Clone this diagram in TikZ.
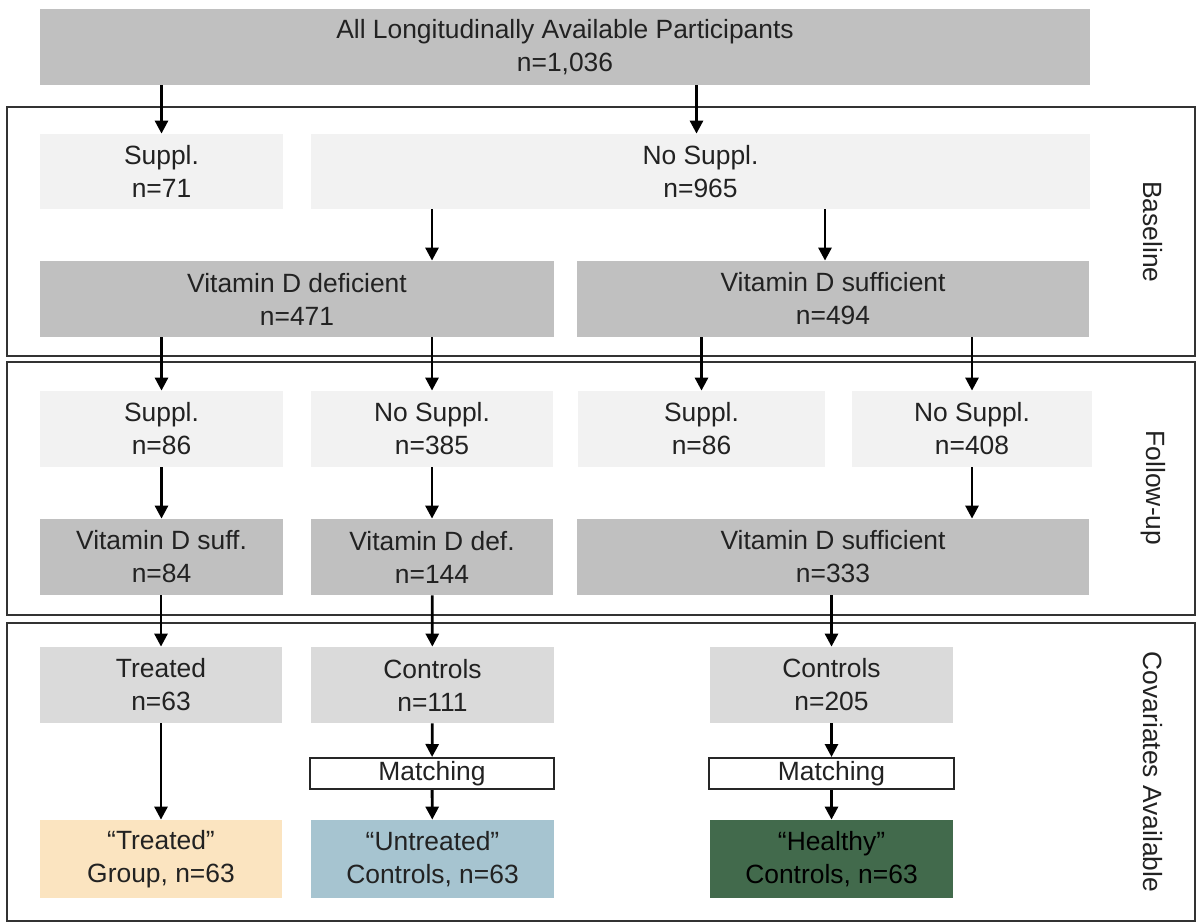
\documentclass[tikz,border=0pt]{standalone}
\usepackage{fontspec}
\setmainfont{Liberation Sans}
\usetikzlibrary{positioning, arrows.meta}

\definecolor{boxgray}{RGB}{192,192,192}
\definecolor{boxlight}{RGB}{242,242,242}
\definecolor{boxmid}{RGB}{218,218,218}
\definecolor{treatcol}{RGB}{251,228,192}
\definecolor{untreatcol}{RGB}{166,196,208}
\definecolor{healthcol}{RGB}{66,106,76}
\definecolor{txt}{RGB}{34,34,34}

\begin{document}
\begin{tikzpicture}[x=0.5pt,y=-0.5pt,
    box/.style={rectangle, align=center, inner sep=0pt, text=txt,
        font=\fontsize{13.2}{16.5}\selectfont, minimum height=38pt},
    dark/.style={box, fill=boxgray},
    light/.style={box, fill=boxlight},
    mid/.style={box, fill=boxmid},
    matchbox/.style={box, draw=black!85, line width=1pt, fill=white, minimum height=15.5pt},
    frame/.style={draw=black!80, line width=1.1pt},
    arr/.style={line width=1.4pt, -{Triangle[length=6.5pt,width=6.5pt]}},
    side/.style={rotate=-90, text=txt, font=\fontsize{13.2}{15}\selectfont}]
\useasboundingbox (0,0) rectangle (1198,922);

% stage frames
\draw[frame] (7,107) rectangle (1195,356);
\draw[frame] (7,362) rectangle (1195,615);
\draw[frame] (7,623) rectangle (1195,921);
\node[side] (lbase) at (1153,232) {Baseline};
\node[side] (lfollow) at (1153,488) {Follow-up};
\node[side] (lcov) at (1153,772) {Covariates Available};

% all participants
\node[dark, minimum width=525pt] (all) at (565,47) {All Longitudinally Available Participants\\n=1,036};

% baseline
\node[light, minimum width=121.5pt, minimum height=37.5pt] (s71) at (161.5,171.5) {Suppl.\\n=71};
\node[light, minimum width=389.5pt, minimum height=37.5pt] (n965) at (700.5,171.5) {No Suppl.\\n=965};
\node[dark, minimum width=257pt] (def471) at (297,299) {Vitamin D deficient\\n=471};
\node[dark, minimum width=256pt] (suf494) at (833,299) {Vitamin D sufficient\\n=494};

% follow-up
\node[light, minimum width=121.5pt] (s86a) at (161.5,429) {Suppl.\\n=86};
\node[light, minimum width=121pt] (ns385) at (432,429) {No Suppl.\\n=385};
\node[light, minimum width=123.5pt] (s86b) at (701.5,429) {Suppl.\\n=86};
\node[light, minimum width=120pt] (ns408) at (972,429) {No Suppl.\\n=408};
\node[dark, minimum width=121.5pt] (suf84) at (161.5,557) {Vitamin D suff.\\n=84};
\node[dark, minimum width=121pt] (def144) at (432,557) {Vitamin D def.\\n=144};
\node[dark, minimum width=256pt] (suf333) at (833,557) {Vitamin D sufficient\\n=333};

% covariates available
\node[mid, minimum width=121pt] (tr63) at (161,685) {Treated\\n=63};
\node[mid, minimum width=121.5pt] (ct111) at (432.5,685) {Controls\\n=111};
\node[mid, minimum width=121.5pt] (ct205) at (831.5,685) {Controls\\n=205};
\node[matchbox, minimum width=122pt] (m1) at (432,773.5) {Matching};
\node[matchbox, minimum width=122.5pt] (m2) at (831.5,773.5) {Matching};
\node[box, fill=treatcol, minimum width=121pt, minimum height=39pt] (grpT) at (161,859) {``Treated''\\Group, n=63};
\node[box, fill=untreatcol, minimum width=121.5pt, minimum height=39pt] (grpU) at (432.5,859) {``Untreated''\\Controls, n=63};
\node[box, fill=healthcol, text=black, minimum width=121.5pt, minimum height=39pt] (grpH) at (831.5,859) {``Healthy''\\Controls, n=63};

% arrows
\draw[arr] (all.south -| s71.north) -- (s71.north);
\draw[arr] ([xshift=-2pt]all.south -| n965.north) -- ([xshift=-2pt]n965.north);
\draw[arr] (n965.south -| ns385.north) -- (def471.north -| ns385.north);
\draw[arr] ([xshift=-4pt]n965.south -| suf494.north) -- ([xshift=-4pt]suf494.north);
\draw[arr] (def471.south -| s86a.north) -- (s86a.north);
\draw[arr] (def471.south -| ns385.north) -- (ns385.north);
\draw[arr] (suf494.south -| s86b.north) -- (s86b.north);
\draw[arr] (suf494.south -| ns408.north) -- (ns408.north);
\draw[arr] (s86a) -- (suf84);
\draw[arr] (ns385) -- (def144);
\draw[arr] (ns408.south) -- (suf333.north -| ns408.south);
\draw[arr] (suf84.south -| tr63.north) -- (tr63.north);
\draw[arr] (def144) -- (ct111);
\draw[arr] (suf333.south -| ct205.north) -- (ct205.north);
\draw[arr] (tr63) -- (grpT);
\draw[arr] (ct111) -- (m1);
\draw[arr] (m1) -- (grpU);
\draw[arr] (ct205) -- (m2);
\draw[arr] (m2) -- (grpH);
\end{tikzpicture}
\end{document}
